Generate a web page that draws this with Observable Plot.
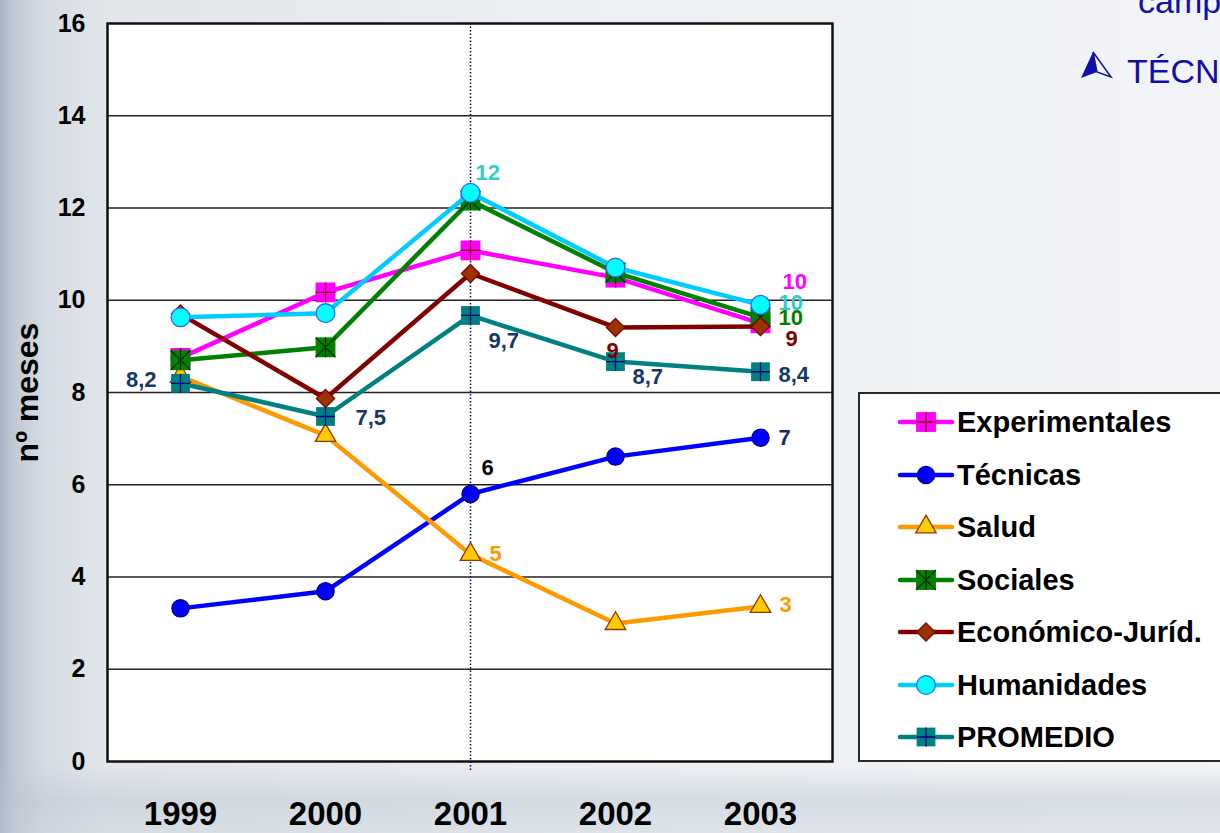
<!DOCTYPE html>
<html><head><meta charset="utf-8">
<script src="https://cdn.jsdelivr.net/npm/d3@7"></script>
<script src="https://cdn.jsdelivr.net/npm/@observablehq/plot@0.6"></script>
<style>
html,body{margin:0;padding:0;}
body{width:1220px;height:833px;overflow:hidden;position:relative;font-family:'Liberation Sans',Arial,sans-serif;
 background:
  linear-gradient(to bottom, rgba(255,255,255,0) 0px, rgba(255,255,255,0) 765px, rgba(185,195,208,0.45) 800px, rgba(195,204,215,0.35) 833px),
  linear-gradient(to right, #a9b4c2 0px, #c2cad5 14px, #d5dbe2 45px, #e2e6eb 100px, #eceff3 600px, #f2f4f7 1220px);}
#chart{position:absolute;left:0;top:0;}
#legend{position:absolute;left:858px;top:392px;width:380px;height:366px;border:2px solid #2a2a2a;background:#fff;}
.item{position:absolute;left:36px;height:40px;display:flex;align-items:center;}
.item span{font-weight:bold;font-size:29px;margin-left:1px;color:#000;white-space:nowrap;}
.top{position:absolute;font-size:34px;line-height:1;color:#1010a8;white-space:nowrap;}
</style>
</head><body>
<div id="chart"></div>
<div id="legend"></div>
<div class="top" style="left:1138px;top:-16px;">campos</div>
<svg style="position:absolute;left:1080px;top:50px" width="34" height="30">
  <polygon points="13,2 1,28 17,22" fill="#1010a8"/>
  <polygon points="13,2 17,22 31,27" fill="#f4f6fa" stroke="#1010a8" stroke-width="1.5"/>
</svg>
<div class="top" style="left:1127px;top:54px;">TÉCNICAS</div>
<script>
// ---------- data ----------
const years = ["1999", "2000", "2001", "2002", "2003"];
const experimentales = [8.75, 10.17, 11.08, 10.49, 9.5];
const tecnicas = [3.32, 3.69, 5.8, 6.61, 7.02];
const salud = [8.35, 7.07, 4.49, 2.99, 3.36];
const sociales = [8.7, 8.98, 12.16, 10.6, 9.63];
const economico = [9.7, 7.87, 10.58, 9.41, 9.43];
const humanidades = [9.63, 9.72, 12.33, 10.71, 9.9];
const promedio = [8.2, 7.48, 9.67, 8.67, 8.45];
const seriesNames = ["Experimentales", "Técnicas", "Salud", "Sociales", "Económico-Juríd.", "Humanidades", "PROMEDIO"];
const seriesValues = [experimentales, tecnicas, salud, sociales, economico, humanidades, promedio];
const yTicks = [0, 2, 4, 6, 8, 10, 12, 14, 16];
const yLabel = "nº meses";

const labelSeries = ["PROMEDIO","PROMEDIO","PROMEDIO","PROMEDIO","PROMEDIO","Humanidades","Experimentales","Humanidades","Sociales","Económico-Juríd.","Económico-Juríd.","Técnicas","Técnicas","Salud","Salud"];
const labelYears = ["1999","2000","2001","2002","2003","2001","2003","2003","2003","2003","2002","2001","2003","2001","2003"];
const labelTexts = ["8,2","7,5","9,7","8,7","8,4","12","10","10","10","9","9","6","7","5","3"];

// ---------- styles ----------
const navy = "#17376b";
const labelStyles = [
  {dx:-24, dy:-3, anchor:"end", color:navy},
  {dx:30, dy:1, anchor:"start", color:navy},
  {dx:18, dy:25, anchor:"start", color:navy},
  {dx:17, dy:15, anchor:"start", color:navy},
  {dx:18, dy:3, anchor:"start", color:navy},
  {dx:5, dy:-20, anchor:"start", color:"#33cccc"},
  {dx:22, dy:-41, anchor:"start", color:"#ff00ff"},
  {dx:18, dy:-2, anchor:"start", color:"#33cccc"},
  {dx:18, dy:1, anchor:"start", color:"#008000"},
  {dx:25, dy:12, anchor:"start", color:"#800000"},
  {dx:-3, dy:23, anchor:"middle", color:"#800000"},
  {dx:11, dy:-26, anchor:"start", color:"#000000"},
  {dx:18, dy:0, anchor:"start", color:"#1a2a6e"},
  {dx:19, dy:0, anchor:"start", color:"#ff9900"},
  {dx:19, dy:-2, anchor:"start", color:"#ff9900"}
];

const plusSym = {draw(ctx, size){const h = Math.sqrt(size)/2; ctx.moveTo(-h,0); ctx.lineTo(h,0); ctx.moveTo(0,-h); ctx.lineTo(0,h);}};
const starSym = {draw(ctx, size){const h = Math.sqrt(size)/2; ctx.moveTo(-h,-h); ctx.lineTo(h,h); ctx.moveTo(h,-h); ctx.lineTo(-h,h); ctx.moveTo(0,-h); ctx.lineTo(0,h);}};

const seriesStyles = [
  {line:"#ff00ff", symbol:"square", r:11.2, fill:"#ff00ff", stroke:"none", over:plusSym, overStroke:"#800000"},
  {line:"#0000ff", symbol:"circle", r:8.6, fill:"#0000ff", stroke:"#000080", over:null},
  {line:"#ff9900", symbol:"triangle", r:7.6, fill:"#ffcc00", stroke:"#993300", over:null},
  {line:"#008000", symbol:"square", r:11.2, fill:"#008000", stroke:"none", over:starSym, overStroke:"#003300"},
  {line:"#800000", symbol:"diamond2", r:8.2, fill:"#993300", stroke:"#800000", over:null},
  {line:"#00ccff", symbol:"circle", r:9.4, fill:"#00ffff", stroke:"#3366ff", over:null},
  {line:"#008080", symbol:"square", r:10.6, fill:"#008080", stroke:"none", over:plusSym, overStroke:"#000080"}
];

const rows = seriesNames.flatMap((s, i) => years.map((yr, j) => ({series: s, year: yr, value: seriesValues[i][j]})));

const marks = [
  Plot.frame({fill: "white", stroke: null}),
  Plot.ruleY(yTicks.filter(t => t > 0 && t < 16), {stroke: "#222", strokeWidth: 1.6}),
  Plot.ruleX(["2001"], {stroke: "#000080", strokeWidth: 1.5, strokeDasharray: "1.5,2", insetBottom: -10}),
  Plot.frame({stroke: "#111", strokeWidth: 2.5}),
  Plot.axisY({ticks: yTicks, tickSize: 0, tickPadding: 22, fontSize: 25, label: null, tickFormat: d => String(d)}),
  Plot.axisX({tickSize: 0, tickPadding: 40, fontSize: 33, label: null}),
  Plot.text([yLabel], {text: d => d, frameAnchor: "left", textAnchor: "middle", dx: -80, rotate: -90, fontSize: 32, fontWeight: "bold"})
];

seriesNames.forEach((s, i) => {
  const st = seriesStyles[i];
  const data = rows.filter(d => d.series === s);
  marks.push(Plot.line(data, {x: "year", y: "value", stroke: st.line, strokeWidth: 4.5}));
  marks.push(Plot.dot(data, {x: "year", y: "value", symbol: st.symbol, r: st.r, fill: st.fill, stroke: st.stroke, strokeWidth: 1.3}));
  if (st.over) marks.push(Plot.dot(data, {x: "year", y: "value", symbol: st.over, r: st.r, fill: "none", stroke: st.overStroke, strokeWidth: 1.3}));
});

labelTexts.forEach((t, k) => {
  const sIdx = seriesNames.indexOf(labelSeries[k]);
  const yIdx = years.indexOf(labelYears[k]);
  const st = labelStyles[k];
  marks.push(Plot.text([{year: labelYears[k], value: seriesValues[sIdx][yIdx], text: t}], {
    x: "year", y: "value", text: "text", fill: st.color, dx: st.dx, dy: st.dy,
    textAnchor: st.anchor, fontSize: 22, fontWeight: "bold"
  }));
});

const chart = Plot.plot({
  width: 1220,
  height: 833,
  marginLeft: 107,
  marginRight: 388,
  marginTop: 23,
  marginBottom: 72,
  style: {background: "transparent", fontFamily: "'Liberation Sans', Arial, sans-serif", fontWeight: "bold", color: "#000", overflow: "visible"},
  x: {type: "point", domain: years, padding: 0.5},
  y: {domain: [0, 16]},
  marks
});
document.getElementById("chart").appendChild(chart);

// ---------- legend ----------
const legend = document.getElementById("legend");
const rowTops = [28, 81, 133, 186, 238, 291, 343];
const symMap = {square: d3.symbolSquare, circle: d3.symbolCircle, triangle: d3.symbolTriangle, diamond2: d3.symbolDiamond2};
seriesNames.forEach((s, i) => {
  const st = seriesStyles[i];
  const item = document.createElement("div");
  item.className = "item";
  item.style.top = (rowTops[i] - 20) + "px";
  const size = Math.PI * st.r * st.r;
  const main = d3.symbol(symMap[st.symbol], size)();
  const over = st.over ? d3.symbol(st.over, size)() : null;
  item.innerHTML = `<svg width="60" height="30" viewBox="0 0 60 30">
    <line x1="4" x2="56" y1="15" y2="15" stroke="${st.line}" stroke-width="4.5" stroke-linecap="round"/>
    <g transform="translate(30,15)"><path d="${main}" fill="${st.fill}" stroke="${st.stroke}" stroke-width="1.3"/>
    ${over ? `<path d="${over}" fill="none" stroke="${st.overStroke}" stroke-width="1.3"/>` : ""}</g>
  </svg><span>${s}</span>`;
  legend.appendChild(item);
});
</script>
</body></html>
